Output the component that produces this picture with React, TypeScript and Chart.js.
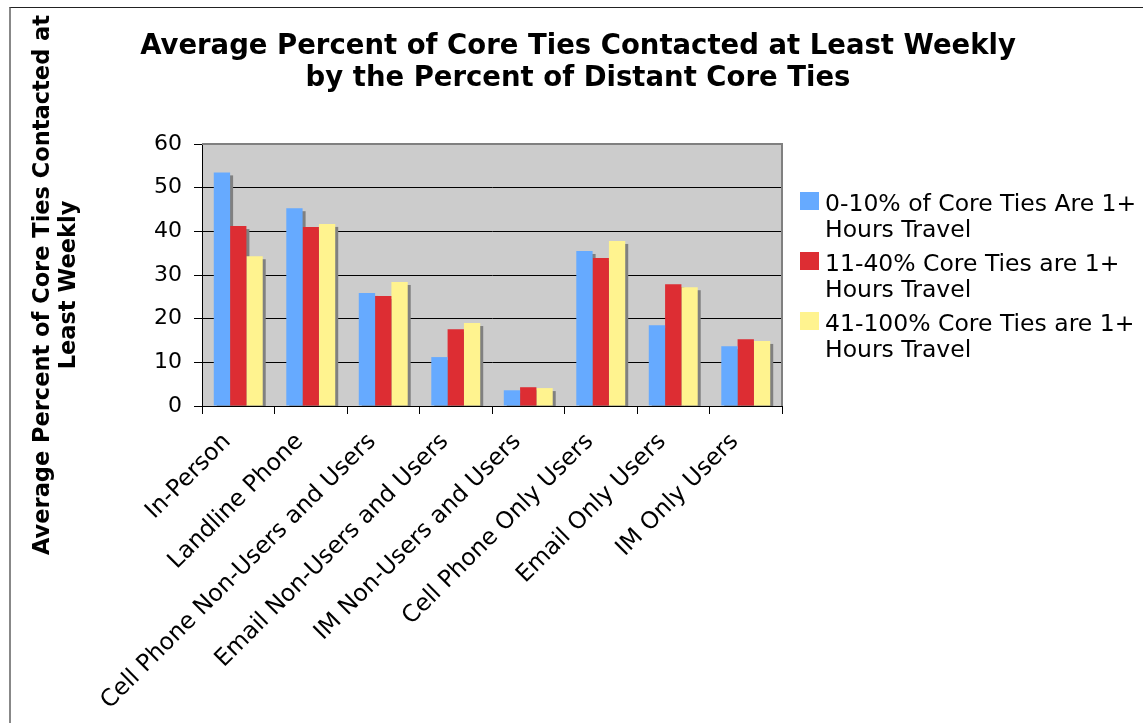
import React, { useEffect, useRef } from 'react';
import { Chart, registerables } from 'chart.js';

Chart.register(...registerables);

const categories = [
  'In-Person',
  'Landline Phone',
  'Cell Phone Non-Users and Users',
  'Email Non-Users and Users',
  'IM Non-Users and Users',
  'Cell Phone Only Users',
  'Email Only Users',
  'IM Only Users',
];
const series1 = [53.5, 45.3, 25.9, 11.2, 3.6, 35.5, 18.5, 13.7];
const series2 = [41.2, 41.0, 25.2, 17.6, 4.3, 33.9, 27.9, 15.3];
const series3 = [34.3, 41.7, 28.4, 19.0, 4.1, 37.8, 27.2, 14.9];
const seriesLabels = [
  ['0-10% of Core Ties Are 1+', 'Hours Travel'],
  ['11-40% Core Ties are 1+', 'Hours Travel'],
  ['41-100% Core Ties are 1+', 'Hours Travel'],
];
const seriesColors = ['#66AAFF', '#DD2D33', '#FFF38F'];
const titleLines = [
  'Average Percent of Core Ties Contacted at Least Weekly',
  'by the Percent of Distant Core Ties',
];
const yTitleLines = ['Average Percent of Core Ties Contacted at', 'Least Weekly'];
const yMin = 0;
const yMax = 60;
const yStep = 10;

const FONT = 'DejaVu Sans';

const plotBackground = {
  id: 'plotBackground',
  beforeDraw(chart: any) {
    const { ctx, chartArea } = chart;
    ctx.save();
    ctx.fillStyle = '#CCCCCC';
    ctx.fillRect(chartArea.left, chartArea.top, chartArea.right - chartArea.left, chartArea.bottom - chartArea.top);
    ctx.restore();
  },
};

// Drop shadows behind all bars, taken from the bar elements' own geometry
const barShadow = {
  id: 'barShadow',
  beforeDatasetsDraw(chart: any) {
    const { ctx, chartArea } = chart;
    ctx.save();
    ctx.beginPath();
    ctx.rect(chartArea.left, chartArea.top, chartArea.right - chartArea.left, chartArea.bottom - chartArea.top);
    ctx.clip();
    ctx.fillStyle = '#808080';
    chart.data.datasets.forEach((_: any, di: number) => {
      const meta = chart.getDatasetMeta(di);
      meta.data.forEach((bar: any) => {
        const { x, y, base, width } = bar.getProps(['x', 'y', 'base', 'width'], true);
        ctx.fillRect(x - width / 2 + 3, y + 3, width, base - y);
      });
    });
    ctx.restore();
  },
};

const decorations = {
  id: 'decorations',
  afterDraw(chart: any) {
    const { ctx, chartArea } = chart;
    ctx.save();
    ctx.strokeStyle = '#808080';
    ctx.lineWidth = 2;
    ctx.beginPath();
    ctx.moveTo(chartArea.left, chartArea.top);
    ctx.lineTo(chartArea.right, chartArea.top);
    ctx.lineTo(chartArea.right, chartArea.bottom);
    ctx.stroke();

    // title
    ctx.fillStyle = '#000';
    ctx.font = `bold 27.5px "${FONT}"`;
    ctx.textAlign = 'center';
    ctx.textBaseline = 'alphabetic';
    titleLines.forEach((t, i) => ctx.fillText(t, 578, 54 + i * 32));

    // y axis title
    ctx.font = `bold 22.5px "${FONT}"`;
    ctx.textBaseline = 'middle';
    yTitleLines.forEach((t, i) => {
      ctx.save();
      ctx.translate(43 + i * 26.5, 285);
      ctx.rotate(-Math.PI / 2);
      ctx.fillText(t, 0, 0);
      ctx.restore();
    });

    // legend
    const lx = chartArea.right + 18;
    ctx.font = `23.5px "${FONT}"`;
    ctx.textAlign = 'left';
    ctx.textBaseline = 'alphabetic';
    chart.data.datasets.forEach((ds: any, i: number) => {
      const top = 192 + i * 60;
      ctx.fillStyle = ds.backgroundColor;
      ctx.fillRect(lx, top, 19, 18);
      ctx.fillStyle = '#000';
      seriesLabels[i].forEach((line, j) => ctx.fillText(line, lx + 25, top + 18.5 + j * 26.7));
    });
    ctx.restore();
  },
};

export default function App() {
  const ref = useRef<HTMLCanvasElement | null>(null);

  useEffect(() => {
    if (!ref.current) return;
    const tickFont = { family: FONT, size: 22 };
    const chart = new Chart(ref.current, {
      type: 'bar',
      data: {
        labels: categories,
        datasets: [series1, series2, series3].map((d, i) => ({
          label: seriesLabels[i].join(' '),
          data: d,
          backgroundColor: seriesColors[i],
          borderWidth: 0,
          categoryPercentage: 0.675,
          barPercentage: 1.0,
        })),
      },
      options: {
        animation: false,
        responsive: false,
        devicePixelRatio: 1,
        layout: { padding: { top: 144, right: 361, bottom: 0, left: 0 } },
        plugins: {
          legend: { display: false },
          title: { display: false },
          tooltip: { enabled: false },
        },
        scales: {
          x: {
            grid: { offset: true, drawOnChartArea: false, drawTicks: true, tickLength: 8, color: '#000' },
            border: { color: '#000', width: 1 },
            ticks: {
              font: { family: FONT, size: 23.5 },
              color: '#000',
              minRotation: 45,
              maxRotation: 45,
              autoSkip: false,
              padding: 14,
              labelOffset: -11,
            },
            afterFit: (s: any) => {
              s.height = 317;
            },
          },
          y: {
            min: yMin,
            max: yMax,
            ticks: { stepSize: yStep, font: tickFont, color: '#000', padding: 12 },
            grid: { color: '#000', tickLength: 8 },
            border: { color: '#000', width: 1 },
            afterFit: (s: any) => {
              s.width = 202;
            },
          },
        },
      },
      plugins: [plotBackground, barShadow, decorations],
    });
    return () => chart.destroy();
  }, []);

  return (
    <div style={{ position: 'fixed', left: 0, top: 0, width: 1143, height: 723, background: '#fff', overflow: 'hidden' }}>
      <canvas ref={ref} width={1143} height={723} style={{ width: 1143, height: 723, display: 'block' }} />
      <div
        style={{
          position: 'absolute',
          left: 9,
          top: 7,
          width: 1200,
          height: 800,
          borderLeft: '2px solid #888',
          borderTop: '1px solid #222',
          pointerEvents: 'none',
        }}
      />
    </div>
  );
}
